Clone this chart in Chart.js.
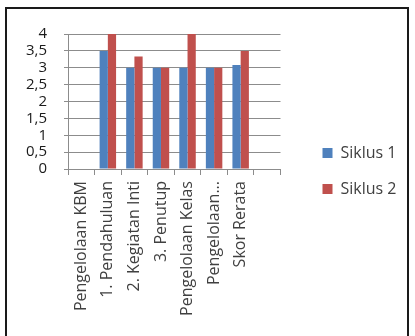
<!DOCTYPE html>
<html>
<head>
<meta charset="utf-8">
<script src="https://cdn.jsdelivr.net/npm/chart.js@4"></script>
<style>
  html, body { margin: 0; padding: 0; background: #fff; }
  #wrap { position: relative; width: 415px; height: 336px; overflow: hidden; }
  #frame { position: absolute; left: 5px; top: 7px; width: 404px; height: 340px; border: 2px solid #1a1a1a; border-bottom: none; box-sizing: border-box; }
  canvas { position: absolute; left: 0; top: 0; }
</style>
</head>
<body>
<div id="wrap">
  <canvas id="c" width="415" height="336"></canvas>
  <div id="frame"></div>
</div>
<script>
const categories = ["Pengelolaan KBM", "1. Pendahuluan", "2. Kegiatan Inti", "3. Penutup", "Pengelolaan Kelas", "Pengelolaan...", "Skor Rerata", ""];
const siklus1 = [null, 3.5, 3, 3, 3, 3, 3.08, null];
const siklus2 = [null, 4, 3.33, 3, 4, 3, 3.5, null];
const yTicks = [0, 0.5, 1, 1.5, 2, 2.5, 3, 3.5, 4];

const legendShift = {
  id: 'legendShift',
  afterLayout(chart) {
    const lg = chart.legend;
    if (!lg) return;
    const dx = 22, dy = -14;
    lg.left += dx; lg.right += dx;
    lg.top += dy; lg.bottom += dy;
  }
};

new Chart(document.getElementById('c'), {
  type: 'bar',
  data: {
    labels: categories,
    datasets: [
      { label: 'Siklus 1', data: siklus1, backgroundColor: '#4F81BD', borderWidth: 0 },
      { label: 'Siklus 2', data: siklus2, backgroundColor: '#C0504D', borderWidth: 0 }
    ]
  },
  options: {
    responsive: false,
    animation: false,
    layout: { padding: { top: 34, right: 41, bottom: 0, left: 0 } },
    datasets: { bar: { categoryPercentage: 0.62, barPercentage: 1.0 } },
    plugins: {
      legend: {
        position: 'right',
        align: 'center',
        labels: {
          boxWidth: 10, boxHeight: 10, padding: 20,
          color: '#404040',
          font: { family: 'Open Sans', size: 16 }
        }
      },
      tooltip: { enabled: false }
    },
    scales: {
      x: {
        grid: { display: true, drawOnChartArea: false, drawTicks: true, tickLength: 6, color: '#8c8c8c', offset: true },
        border: { display: true, color: '#8c8c8c' },
        ticks: {
          autoSkip: false, maxRotation: 90, minRotation: 90, padding: 6,
          color: '#404040', font: { family: 'Open Sans', size: 16 }
        },
        afterFit(scale) { scale.height = 167; }
      },
      y: {
        min: 0, max: 4,
        afterBuildTicks(scale) { scale.ticks = yTicks.map(v => ({ value: v })); },
        grid: { color: '#8c8c8c', drawTicks: true, tickLength: 4 },
        border: { display: true, color: '#8c8c8c' },
        ticks: {
          autoSkip: false,
          padding: 17, color: '#1a1a1a',
          font: { family: 'Open Sans', size: 15 },
          callback: v => String(v).replace('.', ',')
        },
        afterFit(scale) { scale.width = 68; }
      }
    }
  },
  plugins: [legendShift]
});
</script>
</body>
</html>
